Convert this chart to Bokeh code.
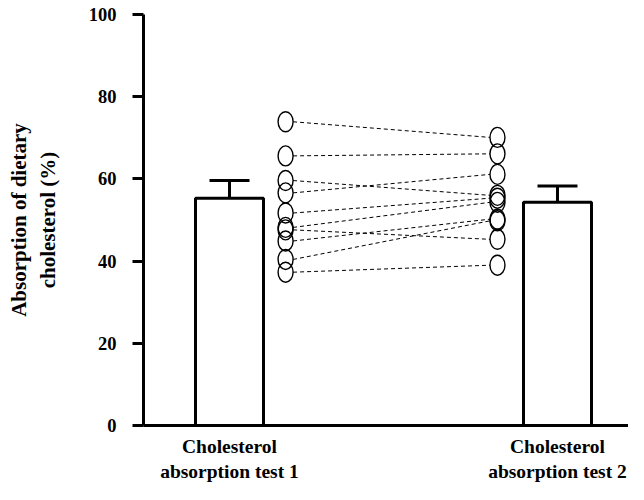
from bokeh.plotting import figure
from bokeh.models import Range1d, FixedTicker, ColumnDataSource
from bokeh.embed import file_html
from bokeh.resources import INLINE

# ---- data ----
categories = ["Cholesterol\nabsorption test 1", "Cholesterol\nabsorption test 2"]
bar_means = [55.3, 54.3]
bar_errors = [4.3, 4.0]

test1_values = [73.9, 65.6, 59.6, 56.6, 51.7, 48.2, 47.6, 44.9, 40.4, 37.3]
test2_values = [70.1, 66.1, 56.0, 61.1, 55.3, 54.3, 45.3, 50.2, 49.8, 39.0]

y_ticks = [0, 20, 40, 60, 80, 100]

# ---- layout / style ----
FONT = "Liberation Serif"
bar_x = [1, 2]
px_per_unit = 328.0
bar_w = 68 / px_per_unit
cap_w = 40 / px_per_unit
left_col = 1.171
right_col = 1.817
half_circ = 7.5 / px_per_unit

p = figure(width=628, height=484, output_backend="svg", toolbar_location=None,
           x_range=Range1d(0.7378, 2.2165), y_range=Range1d(0, 100),
           min_border_left=143, min_border_right=0, min_border_top=14,
           min_border_bottom=54)
p.grid.visible = False
p.outline_line_color = None
p.background_fill_color = "white"
p.border_fill_color = "white"

# bars
p.vbar(x=bar_x, top=bar_means, bottom=0, width=bar_w, fill_color="white",
       line_color="black", line_width=3)
# error bars
tops = [m + e for m, e in zip(bar_means, bar_errors)]
p.segment(x0=bar_x, y0=bar_means, x1=bar_x, y1=tops, line_color="black", line_width=3)
p.segment(x0=[b - cap_w / 2 for b in bar_x], y0=tops,
          x1=[b + cap_w / 2 for b in bar_x], y1=tops, line_color="black", line_width=3)

# paired lines
n = len(test1_values)
src = ColumnDataSource(dict(
    x0=[left_col + half_circ] * n, y0=test1_values,
    x1=[right_col - half_circ] * n, y1=test2_values))
p.segment(x0="x0", y0="y0", x1="x1", y1="y1", source=src, line_color="black",
          line_width=1, line_dash="4 3")

# circles
p.ellipse(x=[left_col] * n, y=test1_values, width=15, height=20,
          width_units="screen", height_units="screen",
          fill_color=None, line_color="black", line_width=1.4)
p.ellipse(x=[right_col] * n, y=test2_values, width=15, height=20,
          width_units="screen", height_units="screen",
          fill_color=None, line_color="black", line_width=1.4)

# y axis
ya = p.yaxis[0]
ya.ticker = FixedTicker(ticks=y_ticks)
ya.minor_tick_line_color = None
ya.major_tick_in = 0
ya.major_tick_out = 11
ya.major_tick_line_width = 3
ya.axis_line_width = 3
ya.major_label_text_font = FONT
ya.major_label_text_font_style = "bold"
ya.major_label_text_font_size = "18.5px"
ya.major_label_text_color = "black"
ya.major_label_standoff = 16
ya.axis_label = "Absorption of dietary\ncholesterol (%)"
ya.axis_label_text_font = FONT
ya.axis_label_text_font_style = "bold"
ya.axis_label_text_font_size = "21px"
ya.axis_label_text_color = "black"
ya.axis_label_standoff = 26

# x axis
xa = p.xaxis[0]
xa.ticker = FixedTicker(ticks=bar_x)
xa.major_label_overrides = {float(b): c for b, c in zip(bar_x, categories)}
xa.major_tick_line_color = None
xa.minor_tick_line_color = None
xa.axis_line_width = 3
xa.major_label_text_font = FONT
xa.major_label_text_font_style = "bold"
xa.major_label_text_font_size = "19.5px"
xa.major_label_text_color = "black"
xa.major_label_standoff = 4

open("out.html", "w").write(file_html(p, INLINE))
